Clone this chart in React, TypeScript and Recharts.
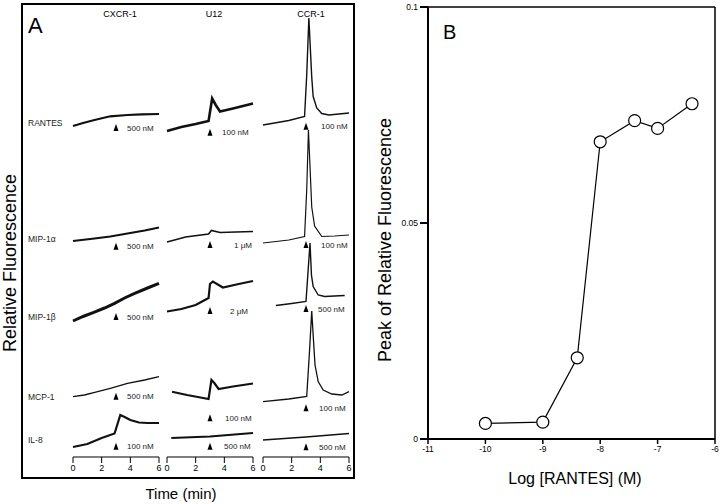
import React from 'react';
import { LineChart, Line, XAxis, YAxis, ReferenceDot, ReferenceLine } from 'recharts';

const FONT = '"Liberation Sans", Arial, Helvetica, sans-serif';

// ---- panel A: calcium traces, receptor columns x chemokine rows ----
const receptors = ['CXCR-1', 'U12', 'CCR-1'];
const chemokines = ['RANTES', 'MIP-1α', 'MIP-1β', 'MCP-1', 'IL-8'];
const timeTicks = [0, 2, 4, 6];
const addTime = 3; // chemokine added at 3 min

// [time (min), fluorescence (a.u.)]
const cxcr1Rantes = [[0, 0.09], [0.7, 0.12], [1.5, 0.15], [2.6, 0.187], [3.8, 0.2], [4.8, 0.207], [6, 0.21]];
const cxcr1Mip1a = [[0, 0.09], [1.5, 0.115], [2.6, 0.135], [3.8, 0.165], [5, 0.195], [6, 0.225]];
const cxcr1Mip1b = [[0, 0.04], [0.7, 0.085], [1.45, 0.127], [2.2, 0.17], [2.9, 0.217], [3.6, 0.27], [4.3, 0.317], [5.2, 0.37], [6, 0.417]];
const cxcr1Mcp1 = [[0, 0.283], [0.8, 0.3], [1.45, 0.323], [2.6, 0.367], [3.8, 0.417], [5, 0.45], [6, 0.483]];
const cxcr1Il8 = [[0, 0.1], [1, 0.13], [2, 0.19], [2.9, 0.235], [3.3, 0.42], [3.6, 0.4], [4, 0.37], [4.6, 0.345], [5.2, 0.34], [6, 0.34]];

const u12Rantes = [[0, 0.04], [1, 0.08], [2, 0.11], [2.9, 0.14], [3.15, 0.365], [3.4, 0.3], [3.7, 0.235], [4.6, 0.265], [5.3, 0.29], [6, 0.315]];
const u12Mip1a = [[0, 0.08], [1.3, 0.13], [2.9, 0.16], [3.1, 0.195], [3.7, 0.175], [4.8, 0.18], [6, 0.185]];
const u12Mip1b = [[0, 0.135], [1, 0.16], [2, 0.2], [2.9, 0.27], [3.0, 0.41], [3.2, 0.435], [3.9, 0.375], [5, 0.41], [6, 0.44]];
const u12Mcp1 = [[0.35, 0.333], [1.4, 0.3], [2.9, 0.26], [3.1, 0.45], [3.3, 0.42], [3.6, 0.36], [4.6, 0.385], [6, 0.415]];
const u12Il8 = [[0.3, 0.19], [3, 0.205], [6, 0.24]];

const ccr1Rantes = [[0, 0.1], [1.8, 0.145], [2.9, 0.185], [3.05, 0.6], [3.2, 1.17], [3.4, 0.58], [3.5, 0.385], [3.75, 0.27], [4.1, 0.215], [4.6, 0.2], [6, 0.22]];
const ccr1Mip1a = [[0, 0.07], [1.8, 0.1], [2.9, 0.135], [3.05, 0.6], [3.17, 1.2], [3.4, 0.43], [3.6, 0.24], [4.1, 0.135], [5, 0.14], [6, 0.15]];
const ccr1Mip1b = [[0.9, 0.195], [2, 0.215], [3.0, 0.235], [3.15, 0.55], [3.28, 0.82], [3.38, 0.5], [3.5, 0.385], [3.85, 0.3], [4.3, 0.285], [5, 0.29], [5.7, 0.295]];
const ccr1Mcp1 = [[0, 0.233], [1.8, 0.26], [3.05, 0.285], [3.25, 0.75], [3.4, 1.14], [3.5, 0.9], [3.63, 0.6], [3.85, 0.435], [4.2, 0.35], [4.8, 0.31], [5.5, 0.3], [6, 0.333]];
const ccr1Il8 = [[0, 0.17], [3, 0.2], [6, 0.235]];

const traces = [
  [cxcr1Rantes, cxcr1Mip1a, cxcr1Mip1b, cxcr1Mcp1, cxcr1Il8],
  [u12Rantes, u12Mip1a, u12Mip1b, u12Mcp1, u12Il8],
  [ccr1Rantes, ccr1Mip1a, ccr1Mip1b, ccr1Mcp1, ccr1Il8],
];

const doses = [
  ['500 nM', '500 nM', '500 nM', '500 nM', '100 nM'],
  ['100 nM', '1 μM', '2 μM', '100 nM', '500 nM'],
  ['100 nM', '100 nM', '500 nM', '100 nM', '500 nM'],
];

// fluorescence level of the addition arrow under each trace
const arrowLevels = [
  [0.11, 0.073, 0.12, 0.323, 0.143],
  [0.063, 0.09, 0.18, 0.107, 0.143],
  [0.123, 0.09, 0.2, 0.207, 0.137],
];

// ---- panel B: dose response ----
const logRantes = [-10, -9, -8.4, -8, -7.4, -7, -6.4];
const peakFluor = [0.0036, 0.0039, 0.0188, 0.0688, 0.0737, 0.0719, 0.0776];
const logTicks = [-11, -10, -9, -8, -7, -6];
const peakTicks = [0, 0.05, 0.1];

// layout
const colLeft = [72.7, 167.3, 263];
const colW = 86;
const rowZero = [135, 250, 325, 425, 457];
const PLOT_H = 130;
const lineWidths = [
  [2.2, 2, 3, 1.3, 2.2],
  [2.6, 1.6, 2.2, 2.2, 2],
  [1.4, 1.2, 1.4, 1.3, 1.4],
];
const labelGap = [
  [11, 11, 11, 11, 11],
  [12, 24, 20, 15, 14],
  [15, 15, 12, 13, 13],
];

const Arrow = ({ cx, cy, text, gap }: any) => (
  <g>
    <path d={`M${cx},${cy} L${cx + 2.5},${cy + 7} L${cx - 2.5},${cy + 7} Z`} fill="#000" />
    <text x={cx + gap} y={cy + 6.5} fontSize={8} fill="#222" fontFamily={FONT}>
      {text}
    </text>
  </g>
);

const Trace = ({ col, row }: { col: number; row: number }) => {
  const pad = 8;
  const showAxis = row === 4;
  const bottomPad = showAxis ? 0 : 16; // room for the arrow labels
  const axisH = 22;
  const data = traces[col][row].map(([t, v]) => ({ t, v }));
  return (
    <div style={{ position: 'absolute', left: colLeft[col] - pad, top: rowZero[row] - PLOT_H }}>
      <LineChart
        width={colW + 2 * pad}
        height={PLOT_H + (showAxis ? axisH : bottomPad)}
        data={data}
        margin={{ top: 0, right: pad, bottom: bottomPad, left: pad }}
      >
        <XAxis
          dataKey="t"
          type="number"
          domain={[0, 6]}
          ticks={timeTicks}
          interval={0}
          hide={!showAxis}
          height={axisH}
          tickSize={6}
          axisLine={{ stroke: '#000' }}
          tickLine={{ stroke: '#000' }}
          tick={{ fontSize: 9, fill: '#000', fontFamily: FONT }}
        />
        <YAxis type="number" domain={[0, 1.3]} hide />
        <Line
          dataKey="v"
          type="linear"
          stroke="#111"
          strokeWidth={lineWidths[col][row]}
          dot={false}
          isAnimationActive={false}
        />
        <ReferenceDot
          x={addTime}
          y={arrowLevels[col][row]}
          r={0}
          shape={(p: any) => <Arrow cx={p.cx} cy={p.cy} text={doses[col][row]} gap={labelGap[col][row]} />}
        />
      </LineChart>
    </div>
  );
};

export default function App() {
  const doseData = logRantes.map((x, i) => ({ x, y: peakFluor[i] }));
  const rowLabelY = [122.7, 239, 316.7, 396.7, 439.3];
  const colTitleX = [120, 214, 311];

  return (
    <div style={{ position: 'absolute', left: 0, top: 0, width: 720, height: 504, background: '#fff', fontFamily: FONT }}>
      {/* panel A frame */}
      <div
        style={{
          position: 'absolute',
          left: 21,
          top: 3,
          width: 334,
          height: 476,
          border: '2px solid #000',
          boxSizing: 'border-box',
        }}
      />

      {traces.map((colTraces, c) =>
        colTraces.map((_, r) => <Trace key={`${c}-${r}`} col={c} row={r} />)
      )}

      {/* panel B */}
      <div style={{ position: 'absolute', left: 360, top: 0 }}>
        <LineChart width={360} height={504} data={doseData} margin={{ top: 7, right: 5, bottom: 40, left: 8 }}>
          <XAxis
            dataKey="x"
            type="number"
            domain={[-11, -6]}
            ticks={logTicks}
            interval={0}
            height={25}
            tickSize={5}
            axisLine={{ stroke: '#000', strokeWidth: 2 }}
            tickLine={{ stroke: '#000', strokeWidth: 1.5 }}
            tick={{ fontSize: 8.5, fill: '#000', fontFamily: FONT }}
          />
          <YAxis
            type="number"
            domain={[0, 0.1]}
            ticks={peakTicks}
            interval={0}
            width={60}
            tickSize={8}
            axisLine={{ stroke: '#000', strokeWidth: 2 }}
            tickLine={{ stroke: '#000', strokeWidth: 2 }}
            tick={{ fontSize: 8.5, fill: '#000', fontFamily: FONT }}
            tickFormatter={(v: number) => String(v)}
          />
          <ReferenceLine y={0.1} stroke="#000" strokeWidth={1.5} />
          <ReferenceLine x={-6} stroke="#000" strokeWidth={1.5} />
          <Line
            dataKey="y"
            type="linear"
            stroke="#000"
            strokeWidth={1.2}
            dot={{ r: 6, fill: '#fff', stroke: '#000', strokeWidth: 1.2 }}
            isAnimationActive={false}
          />
        </LineChart>
      </div>

      {/* texts */}
      <svg width={720} height={504} style={{ position: 'absolute', left: 0, top: 0, pointerEvents: 'none' }} fontFamily={FONT}>
        <text x={28} y={33} fontSize={22}>A</text>
        {receptors.map((name, i) => (
          <text key={name} x={colTitleX[i]} y={16.5} fontSize={9} textAnchor="middle">{name}</text>
        ))}
        {chemokines.map((name, i) => (
          <text key={name} x={28} y={rowLabelY[i] + 3.2} fontSize={8.5} fill="#222">{name}</text>
        ))}
        <text x={16} y={263} fontSize={18} textAnchor="middle" transform="rotate(-90 16 263)">Relative Fluorescence</text>
        <text x={181} y={498.5} fontSize={15} textAnchor="middle">Time (min)</text>

        <text x={443} y={39} fontSize={20}>B</text>
        <text x={391} y={240} fontSize={18} textAnchor="middle" transform="rotate(-90 391 240)">Peak of Relative Fluorescence</text>
        <text x={575} y={484} fontSize={16} textAnchor="middle">Log [RANTES] (M)</text>
      </svg>
    </div>
  );
}
